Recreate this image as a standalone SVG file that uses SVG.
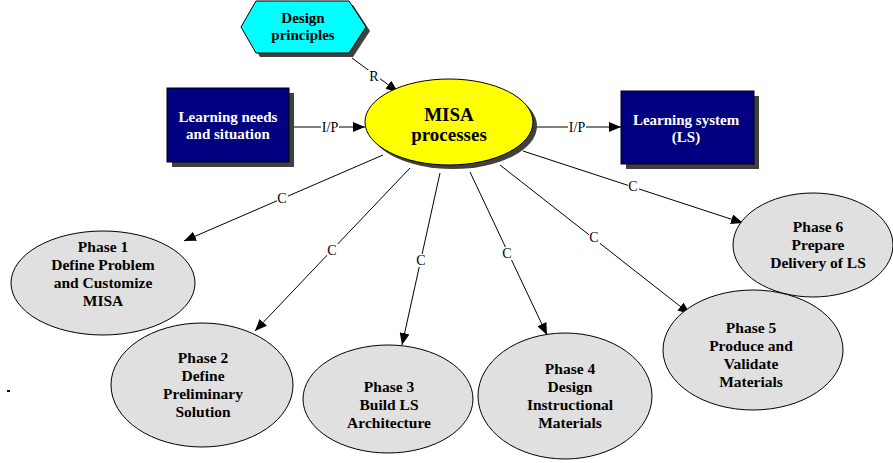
<svg xmlns="http://www.w3.org/2000/svg" width="893" height="463" viewBox="0 0 893 463">
<defs>
<marker id="arr" markerUnits="userSpaceOnUse" markerWidth="12" markerHeight="10" refX="12" refY="5" orient="auto">
<path d="M0,0 L12,5 L0,10 Z" fill="#000"/>
</marker>
</defs>
<style>
.t{font-family:"Liberation Serif","Times New Roman",serif;font-weight:bold;text-anchor:middle}
.ph{font-size:15.5px;fill:#000}
.bx{font-size:15px;fill:#fff}
.lbl{font-family:"Liberation Serif","Times New Roman",serif;font-size:14px;text-anchor:middle;fill:#000}
.bg{fill:#fff}
.ln{stroke:#000;stroke-width:1;fill:none;marker-end:url(#arr)}
.shadow{fill:#404040}
.phase{fill:#e0e0e0;stroke:#000;stroke-width:1}
</style>
<rect width="893" height="463" fill="#fff"/>
<rect x="7" y="390" width="3" height="2" fill="#000"/>

<g id="connectors">
<line class="ln" x1="352" y1="58" x2="398" y2="92"/>
<line class="ln" x1="290" y1="127" x2="365" y2="127"/>
<line class="ln" x1="533" y1="127" x2="621" y2="127"/>
<line class="ln" x1="383" y1="155" x2="184" y2="241"/>
<line class="ln" x1="410" y1="168" x2="255" y2="331"/>
<line class="ln" x1="440" y1="173" x2="402" y2="345"/>
<line class="ln" x1="470" y1="172" x2="547" y2="335"/>
<line class="ln" x1="500" y1="165" x2="690" y2="314"/>
<line class="ln" x1="523" y1="151" x2="743" y2="223"/>
<rect class="bg" x="368" y="70" width="12" height="13"/>
<rect class="bg" x="321" y="121" width="18" height="13"/>
<rect class="bg" x="568" y="121" width="18" height="13"/>
<rect class="bg" x="277" y="192" width="11" height="13"/>
<rect class="bg" x="327" y="244" width="11" height="13"/>
<rect class="bg" x="416" y="254" width="11" height="13"/>
<rect class="bg" x="502" y="247" width="11" height="13"/>
<rect class="bg" x="589" y="231" width="11" height="13"/>
<rect class="bg" x="628" y="180" width="11" height="13"/>
<text class="lbl" x="374" y="81">R</text>
<text class="lbl" x="330" y="132">I/P</text>
<text class="lbl" x="577" y="132">I/P</text>
<text class="lbl" x="282" y="203">C</text>
<text class="lbl" x="332" y="255">C</text>
<text class="lbl" x="421" y="265">C</text>
<text class="lbl" x="507" y="258">C</text>
<text class="lbl" x="594" y="242">C</text>
<text class="lbl" x="633" y="191">C</text>
</g>

<g id="design-principles">
<polygon class="shadow" points="260,5 353,5 370,31 353,57 260,57 245,31"/>
<polygon points="256,1 349,1 366,27 349,53 256,53 241,27" fill="#00ffff" stroke="#000" stroke-width="1"/>
<text class="t" x="303" y="23" font-size="15">Design</text>
<text class="t" x="303" y="40" font-size="15">principles</text>
</g>

<g id="learning-needs">
<rect class="shadow" x="172" y="93" width="122" height="74"/>
<rect x="167" y="88" width="122" height="74" fill="#000080" stroke="#000" stroke-width="1"/>
<text class="t bx" x="228" y="122">Learning needs</text>
<text class="t bx" x="228" y="139">and situation</text>
</g>

<g id="misa">
<ellipse class="shadow" cx="453" cy="126" rx="84" ry="43"/>
<ellipse cx="449" cy="122" rx="84" ry="43" fill="#ffff00" stroke="#000" stroke-width="1"/>
<text class="t" x="449" y="121" font-size="19">MISA</text>
<text class="t" x="449" y="141" font-size="19">processes</text>
</g>

<g id="learning-system">
<rect class="shadow" x="626" y="96" width="133" height="73"/>
<rect x="621" y="91" width="133" height="73" fill="#000080" stroke="#000" stroke-width="1"/>
<text class="t bx" x="686" y="125">Learning system</text>
<text class="t bx" x="686" y="142">(LS)</text>
</g>

<g id="phase1">
<ellipse class="phase" cx="103" cy="283" rx="92" ry="52"/>
<text class="t ph" x="103" y="252">Phase 1</text>
<text class="t ph" x="103" y="270">Define Problem</text>
<text class="t ph" x="103" y="288">and Customize</text>
<text class="t ph" x="103" y="306">MISA</text>
</g>

<g id="phase2">
<ellipse class="phase" cx="202" cy="385" rx="91" ry="62"/>
<text class="t ph" x="203" y="363">Phase 2</text>
<text class="t ph" x="203" y="381">Define</text>
<text class="t ph" x="203" y="399">Preliminary</text>
<text class="t ph" x="203" y="417">Solution</text>
</g>

<g id="phase3">
<ellipse class="phase" cx="388" cy="399" rx="85" ry="54"/>
<text class="t ph" x="389" y="392">Phase 3</text>
<text class="t ph" x="389" y="410">Build LS</text>
<text class="t ph" x="389" y="428">Architecture</text>
</g>

<g id="phase4">
<ellipse class="phase" cx="565" cy="396" rx="87" ry="63"/>
<text class="t ph" x="570" y="374">Phase 4</text>
<text class="t ph" x="570" y="392">Design</text>
<text class="t ph" x="570" y="410">Instructional</text>
<text class="t ph" x="570" y="428">Materials</text>
</g>

<g id="phase5">
<ellipse class="phase" cx="753" cy="350" rx="90" ry="60"/>
<text class="t ph" x="751" y="333">Phase 5</text>
<text class="t ph" x="751" y="351">Produce and</text>
<text class="t ph" x="751" y="369">Validate</text>
<text class="t ph" x="751" y="387">Materials</text>
</g>

<g id="phase6">
<ellipse class="phase" cx="813" cy="245" rx="80" ry="52"/>
<text class="t ph" x="818" y="232">Phase 6</text>
<text class="t ph" x="818" y="250">Prepare</text>
<text class="t ph" x="818" y="268">Delivery of LS</text>
</g>
</svg>
